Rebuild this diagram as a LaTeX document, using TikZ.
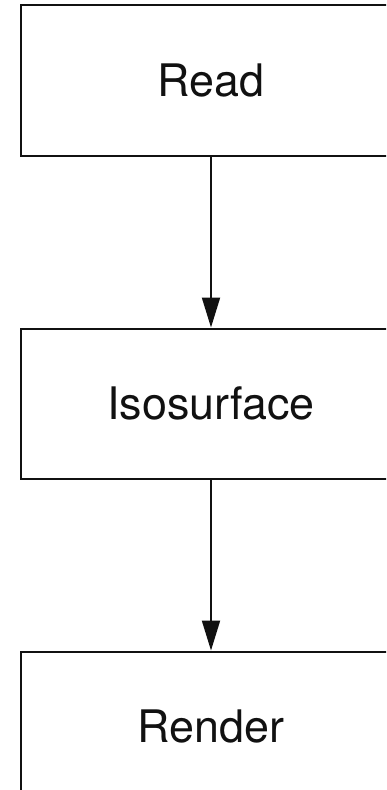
\documentclass[tikz,border=0pt]{standalone}
\usepackage{fontspec}
\setmainfont{TeX Gyre Heros}
\usepackage{xcolor}
\usetikzlibrary{positioning,arrows.meta}
\definecolor{ink}{HTML}{111111}
\tikzset{
  stage/.style={draw=ink, line width=2bp, rectangle, minimum width=380bp,
    minimum height=150bp, inner sep=0pt, text=ink,
    font=\fontsize{45}{50}\selectfont},
  flow/.style={draw=ink, line width=2bp, -{Triangle[width=18bp,length=30bp]}}
}

\begin{document}
\begin{tikzpicture}[x=1bp,y=1bp,node distance=171bp]
  \useasboundingbox (0,0) rectangle (386,-790);
  \clip (0,0) rectangle (386,-790);

  \node[stage] (read) at (211,-80.5) {Read};
  \node[stage,below=of read] (iso) {Isosurface};
  \node[stage,below=of iso] (render) {Render};

  \draw[flow] (read) -- (iso);
  \draw[flow] (iso) -- (render);
\end{tikzpicture}
\end{document}
